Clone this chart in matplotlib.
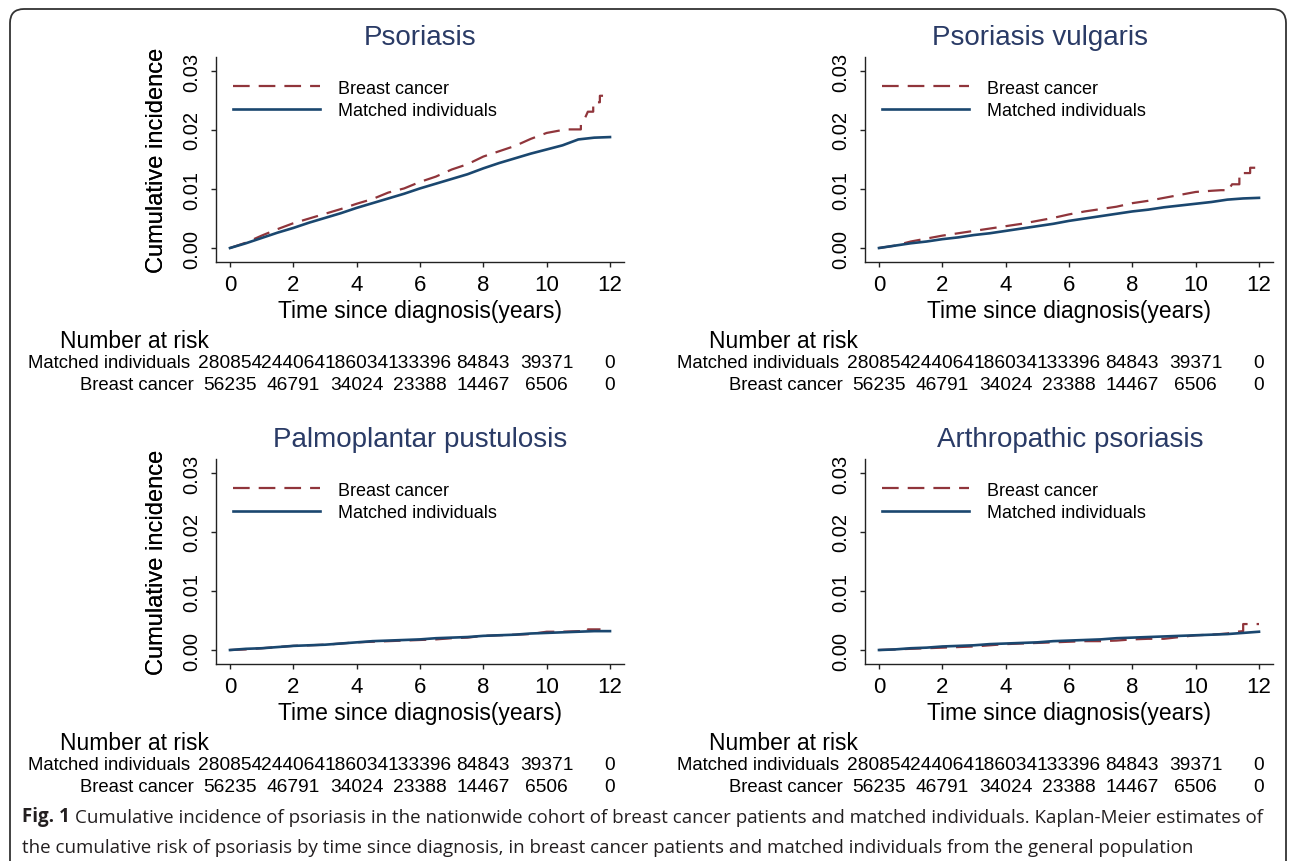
import matplotlib
matplotlib.use("Agg")
import matplotlib.pyplot as plt
from matplotlib import transforms
from matplotlib.patches import FancyBboxPatch

plt.rcParams['font.family'] = ['Liberation Sans', 'DejaVu Sans']
plt.rcParams['lines.scale_dashes'] = False

W, H = 1292, 862
red = '#90353b'
blue = '#1a476f'
navy = '#2a3b66'

titles = ['Psoriasis', 'Psoriasis vulgaris', 'Palmoplantar pustulosis', 'Arthropathic psoriasis']
legend_labels = ['Breast cancer', 'Matched individuals']
xticks = [0, 2, 4, 6, 8, 10, 12]
yticks = [0.00, 0.01, 0.02, 0.03]
risk_matched = [280854, 244064, 186034, 133396, 84843, 39371, 0]
risk_breast = [56235, 46791, 34024, 23388, 14467, 6506, 0]

# matched individuals (solid)
t_half = [0, 0.5, 1, 1.5, 2, 2.5, 3, 3.5, 4, 4.5, 5, 5.5, 6, 6.5, 7, 7.5, 8, 8.5, 9, 9.5, 10, 10.5, 11, 11.5, 12]
pso_m = [0, .0008, .0017, .0026, .0034, .0043, .0051, .0059, .0068, .0076, .0084, .0092, .0101, .0109,
         .0117, .0125, .0135, .0144, .0152, .0160, .0167, .0174, .0184, .0187, .0188]
vul_m = [0, .0004, .0008, .0011, .0015, .0018, .0022, .0025, .0029, .0033, .0037, .0041, .0046, .0050,
         .0054, .0058, .0062, .0065, .0069, .0072, .0075, .0078, .0082, .0084, .0085]
ppp_m = [0, .0002, .0003, .0005, .0007, .0008, .0009, .0011, .0013, .0015, .0016, .0017, .0018, .0020,
         .0021, .0022, .0024, .0025, .0026, .0028, .0029, .0030, .0031, .0032, .0032]
art_m = [0, .0001, .0003, .0004, .0006, .0007, .0008, .0010, .0011, .0012, .0013, .0015, .0016, .0017,
         .0018, .0020, .0021, .0022, .0023, .0024, .0025, .0026, .0027, .0029, .0031]

# breast cancer (dashed), with the visible steps at the end
pso_bt = [0, 0.5, 1, 1.5, 2, 2.5, 3, 3.5, 4, 4.5, 5, 5.5, 6, 6.5, 7, 7.5, 8, 8.5, 9, 9.5, 10, 10.6,
          11.08, 11.08, 11.2, 11.3, 11.47, 11.47, 11.68, 11.68, 11.78]
pso_b = [0, .0009, .0021, .0032, .0042, .0050, .0058, .0066, .0075, .0083, .0094, .0101, .0112, .0121,
         .0133, .0142, .0155, .0164, .0173, .0185, .0195, .0201,
         .0201, .0210, .0219, .0231, .0231, .0247, .0247, .0258, .0258]
vul_bt = [0, 0.5, 1, 1.5, 2, 2.5, 3, 3.5, 4, 4.5, 5, 5.5, 6, 6.5, 7, 7.5, 8, 8.5, 9, 9.5, 10, 10.5,
          10.8, 11.08, 11.1, 11.15, 11.38, 11.38, 11.72, 11.72, 12]
vul_b = [0, .0004, .0011, .0016, .0021, .0025, .0029, .0033, .0037, .0041, .0046, .0051, .0057, .0062,
         .0066, .0070, .0076, .0080, .0085, .0090, .0095, .0097,
         .0098, .0098, .0104, .0108, .0108, .0127, .0127, .0136, .0136]
ppp_bt = [0, 0.5, 1, 1.5, 2, 2.5, 3, 3.5, 4, 4.5, 5, 5.5, 6, 6.5, 7, 7.5, 8, 8.5, 9, 9.5, 10, 10.5,
          11, 11.3, 11.3, 11.7]
ppp_b = [0, .0001, .0003, .0005, .0007, .0008, .0009, .0011, .0013, .0014, .0015, .0016, .0017, .0018,
         .0020, .0021, .0024, .0025, .0026, .0027, .0031, .0031, .0032, .0032, .0035, .0035]
art_bt = [0, 0.5, 1, 1.5, 2, 2.5, 3, 3.5, 4, 4.5, 5, 5.5, 6, 6.5, 7, 7.5, 8, 8.5, 9, 9.5, 10, 10.5,
          11, 11.3, 11.5, 11.5, 12]
art_b = [0, .0001, .0002, .0003, .0004, .0005, .0006, .0008, .0010, .0011, .0012, .0013, .0014, .0015,
         .0015, .0016, .0018, .0019, .0019, .0022, .0025, .0026, .0028, .0031, .0032, .0044, .0044]

matched = [pso_m, vul_m, ppp_m, art_m]
breast_t = [pso_bt, vul_bt, ppp_bt, art_bt]
breast = [pso_b, vul_b, ppp_b, art_b]

# panel layout in pixels: axes left, top; title centre x
panels = [(216, 58, 420), (865, 58, 1040), (216, 460, 420), (865, 460, 1070)]
aw, ah = 408, 205

fig = plt.figure(figsize=(W / 100, H / 100), dpi=100)

for i in range(4):
    left, top, tcx = panels[i]
    ax = fig.add_axes([left / W, 1 - (top + ah) / H, aw / W, ah / H])
    ax.plot(breast_t[i], breast[i], color=red, lw=1.6, ls=(0, (12, 6.5)), label=legend_labels[0])
    ax.plot(t_half, matched[i], color=blue, lw=1.9, label=legend_labels[1])
    ax.set_xlim(-0.442, 12.442)
    ax.set_ylim(-0.00237, 0.03237)
    ax.set_xticks(xticks)
    ax.set_yticks(yticks)
    ax.set_yticklabels(['%.2f' % v for v in yticks], rotation=90, va='center')
    ax.tick_params(length=3.6, width=1, direction='out', color='#222222')
    ax.tick_params(axis='x', pad=5, labelsize=16)
    ax.tick_params(axis='y', pad=7, labelsize=14.5)
    for s in ['top', 'right']:
        ax.spines[s].set_visible(False)
    for s in ['left', 'bottom']:
        ax.spines[s].set_linewidth(1.0)
        ax.spines[s].set_color('#222222')
    ax.set_ylabel('Cumulative incidence', fontsize=17, va='center')
    ax.yaxis.set_label_coords((157 - left) / aw, 0.5)
    ax.set_xlabel('Time since diagnosis(years)', fontsize=16.5, va='center')
    ax.xaxis.set_label_coords(0.5, (ah - (312 - 58)) / ah)
    ax.legend(loc='upper left', bbox_to_anchor=(17 / aw, 0.89), frameon=False, fontsize=13,
              handlelength=4.8, handletextpad=1.0, labelspacing=0.3, borderpad=0, borderaxespad=0)

    fig.text(tcx / W, 1 - (top - 13) / H, titles[i], ha='center', va='baseline', fontsize=20, color=navy)

    # number at risk table
    dy = top - 58
    tr = transforms.blended_transform_factory(ax.transData, fig.transFigure)
    fig.text((left - 156) / W, 1 - (341 + dy) / H, 'Number at risk', ha='left', va='center', fontsize=16.5)
    fig.text((left - 26) / W, 1 - (364 + dy) / H, 'Matched individuals', ha='right', va='center', fontsize=13.3)
    fig.text((left - 22) / W, 1 - (386 + dy) / H, 'Breast cancer', ha='right', va='center', fontsize=13.3)
    for x, a, b in zip(xticks, risk_matched, risk_breast):
        ax.text(x, 1 - (364 + dy) / H, str(a), transform=tr, ha='center', va='center', fontsize=13.8,
                clip_on=False)
        ax.text(x, 1 - (386 + dy) / H, str(b), transform=tr, ha='center', va='center', fontsize=13.8,
                clip_on=False)

# caption
cap_font = ['Open Sans', 'DejaVu Sans']
t1 = fig.text(22 / W, 1 - 822 / H, 'Fig. 1', ha='left', va='baseline', fontsize=13.5, fontweight='bold',
              family=cap_font, color='#231f20')
fig.axes[0].annotate('Cumulative incidence of psoriasis in the nationwide cohort of breast cancer patients and '
                     'matched individuals. Kaplan-Meier estimates of',
                     xy=(1, 0), xycoords=t1, xytext=(4, 0), textcoords='offset points', ha='left',
                     va='bottom', fontsize=13.5, family=cap_font, color='#231f20', annotation_clip=False)
fig.text(22 / W, 1 - 853 / H, 'the cumulative risk of psoriasis by time since diagnosis, in breast cancer '
         'patients and matched individuals from the general population',
         ha='left', va='baseline', fontsize=13.5, family=cap_font, color='#231f20')

# rounded frame around the figure
frame = FancyBboxPatch((10, -30), 1276, 852 + 30, boxstyle='round,pad=0,rounding_size=14',
                       transform=transforms.IdentityTransform(), fill=False, lw=1.3, ec='#333333')
fig.patches.append(frame)

plt.savefig('out.png', dpi=100)
